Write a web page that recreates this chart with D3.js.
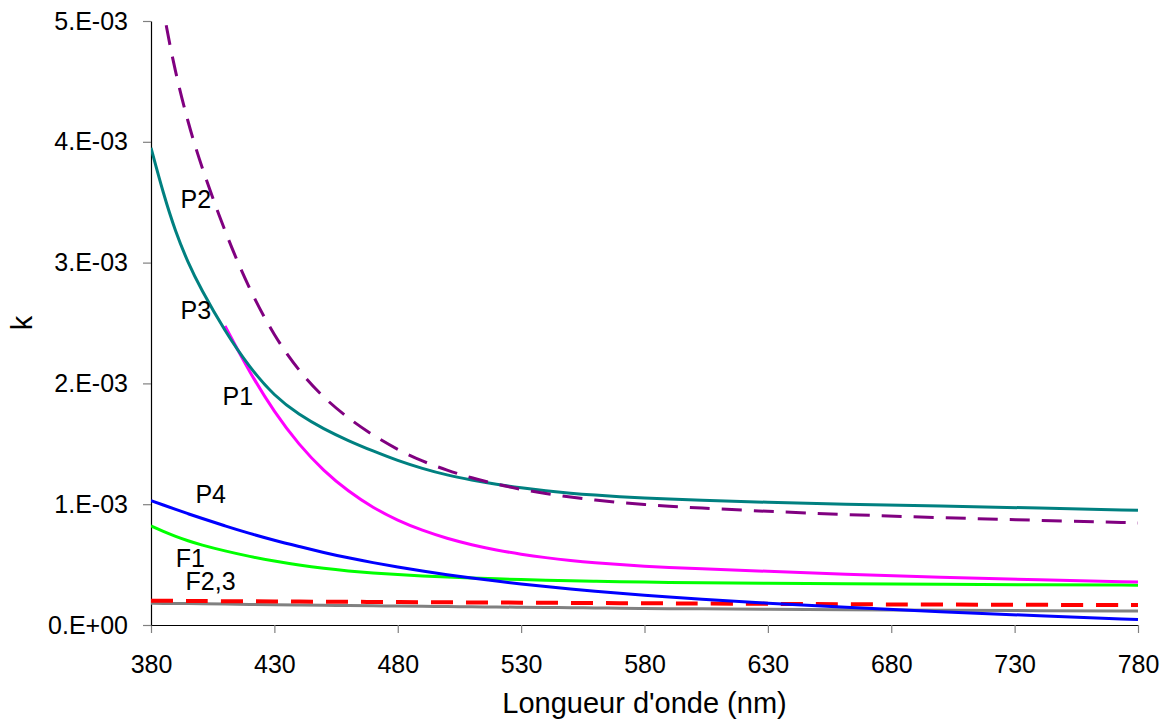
<!DOCTYPE html>
<html>
<head>
<meta charset="utf-8">
<script src="https://cdn.jsdelivr.net/npm/d3@7/dist/d3.min.js"></script>
<style>
    body { margin: 0; background: white; }
    svg { display: block; font-family: "Liberation Sans", Arial, sans-serif; }
    .axis .domain { stroke: #000; stroke-width: 1.2; }
    .axis .tick line { stroke: #808080; stroke-width: 1.2; }
    .axis .tick text { fill: #000; font-size: 25px; }
</style>
</head>
<body>
<svg id="chart" width="1166" height="722"></svg>
<script>
// wavelength (nm) and k values, in units of 1e-3
var wavelengths = [380, 385, 390, 395, 400, 410, 420, 430, 440, 450, 460, 470, 480, 490, 500, 510, 520, 530, 540, 550, 560, 570, 580, 590, 600, 630, 660, 700, 740, 780];
var kP1 = [null, null, null, null, null, 2.475, 2.09, 1.76, 1.49, 1.275, 1.105, 0.97, 0.865, 0.782, 0.716, 0.663, 0.62, 0.585, 0.557, 0.534, 0.515, 0.50, 0.487, 0.476, 0.467, 0.445, 0.42, 0.395, 0.373, 0.355];
var kP2 = [5.75, 5.07, 4.56, 4.16, 3.82, 3.25, 2.77, 2.39, 2.10, 1.88, 1.71, 1.57, 1.45, 1.355, 1.28, 1.217, 1.165, 1.122, 1.087, 1.058, 1.034, 1.014, 0.997, 0.983, 0.971, 0.94, 0.915, 0.888, 0.866, 0.845];
var kP3 = [3.95, 3.57, 3.25, 3.0, 2.79, 2.43, 2.13, 1.895, 1.74, 1.623, 1.525, 1.44, 1.36, 1.295, 1.24, 1.20, 1.165, 1.135, 1.11, 1.09, 1.075, 1.062, 1.052, 1.043, 1.035, 1.015, 1.0, 0.985, 0.968, 0.95];
var kP4 = [1.03, 0.993, 0.957, 0.921, 0.887, 0.82, 0.757, 0.70, 0.65, 0.60, 0.555, 0.516, 0.48, 0.446, 0.415, 0.388, 0.363, 0.34, 0.318, 0.298, 0.28, 0.263, 0.247, 0.232, 0.218, 0.18, 0.148, 0.11, 0.075, 0.045];
var kF1 = [0.82, 0.774, 0.733, 0.697, 0.665, 0.612, 0.567, 0.528, 0.495, 0.468, 0.447, 0.43, 0.417, 0.406, 0.397, 0.389, 0.382, 0.376, 0.371, 0.366, 0.362, 0.358, 0.355, 0.352, 0.35, 0.345, 0.341, 0.337, 0.333, 0.33];
var kF2 = [0.20, 0.20, 0.20, 0.199, 0.198, 0.197, 0.196, 0.195, 0.194, 0.193, 0.192, 0.191, 0.19, 0.189, 0.188, 0.187, 0.186, 0.185, 0.184, 0.183, 0.182, 0.181, 0.18, 0.179, 0.178, 0.175, 0.172, 0.169, 0.167, 0.165];
var kF3 = [0.18, 0.179, 0.178, 0.177, 0.176, 0.173, 0.17, 0.167, 0.165, 0.163, 0.161, 0.159, 0.157, 0.155, 0.153, 0.151, 0.149, 0.147, 0.145, 0.143, 0.141, 0.139, 0.137, 0.135, 0.134, 0.13, 0.127, 0.123, 0.119, 0.115];
var xTicks = [380, 430, 480, 530, 580, 630, 680, 730, 780];
var yTicks = [0, 0.001, 0.002, 0.003, 0.004, 0.005];

var series = [
    { name: 'F3', values: kF3, color: '#808080', width: 3, dash: null },
    { name: 'F2', values: kF2, color: '#ff0000', width: 4, dash: '22,13' },
    { name: 'F1', values: kF1, color: '#00ff00', width: 3, dash: null },
    { name: 'P4', values: kP4, color: '#0000ff', width: 3, dash: null },
    { name: 'P1', values: kP1, color: '#ff00ff', width: 3, dash: null },
    { name: 'P3', values: kP3, color: '#008080', width: 3, dash: null },
    { name: 'P2', values: kP2, color: '#800080', width: 3, dash: '20,12' }
];
// text labels placed next to the curves: [text, wavelength, k]
var labels = [
    ['P2', 392, 3.45],
    ['P3', 392, 2.53],
    ['P1', 409, 1.82],
    ['P4', 398, 1.01],
    ['F1', 390, 0.48],
    ['F2,3', 394, 0.29]
];

var margin = { left: 151, right: 28, top: 21, bottom: 97 };
var svg = d3.select('#chart');
var width = +svg.attr('width') - margin.left - margin.right;
var height = +svg.attr('height') - margin.top - margin.bottom;

var x = d3.scaleLinear().domain([380, 780]).range([0, width]);
var y = d3.scaleLinear().domain([0, 0.005]).range([height, 0]);

var g = svg.append('g').attr('transform', 'translate(' + margin.left + ',' + margin.top + ')');

g.append('clipPath').attr('id', 'plot-clip')
    .append('rect').attr('width', width + 2).attr('height', height).attr('y', 0);

var expFormat = function (d) {
    return d === 0 ? '0.E+00' : Math.round(d * 1000) + '.E-03';
};

g.append('g').attr('class', 'axis')
    .attr('transform', 'translate(0,' + height + ')')
    .call(d3.axisBottom(x).tickValues(xTicks).tickSize(8).tickPadding(22).tickSizeOuter(0));
g.append('g').attr('class', 'axis')
    .call(d3.axisLeft(y).tickValues(yTicks).tickFormat(expFormat).tickSize(8).tickPadding(15).tickSizeOuter(0));

var line = d3.line()
    .defined(function (d) { return d[1] != null; })
    .x(function (d) { return x(d[0]); })
    .y(function (d) { return y(d[1] * 1e-3); })
    .curve(d3.curveBasis);

g.append('g').attr('clip-path', 'url(#plot-clip)')
    .selectAll('path').data(series).enter().append('path')
    .attr('fill', 'none')
    .attr('stroke', function (s) { return s.color; })
    .attr('stroke-width', function (s) { return s.width; })
    .attr('stroke-dasharray', function (s) { return s.dash; })
    .attr('d', function (s) { return line(wavelengths.map(function (w, i) { return [w, s.values[i]]; })); });

g.append('g').selectAll('text').data(labels).enter().append('text')
    .attr('x', function (d) { return x(d[1]); })
    .attr('y', function (d) { return y(d[2] * 1e-3); })
    .style('font-size', '25px')
    .text(function (d) { return d[0]; });

svg.append('text')
    .attr('x', margin.left + width / 2)
    .attr('y', 713)
    .attr('text-anchor', 'middle')
    .style('font-size', '29px')
    .text("Longueur d'onde (nm)");

svg.append('text')
    .attr('transform', 'translate(32,' + (margin.top + height / 2) + ')rotate(-90)')
    .attr('text-anchor', 'middle')
    .style('font-size', '29px')
    .text('k');
</script>
</body>
</html>
